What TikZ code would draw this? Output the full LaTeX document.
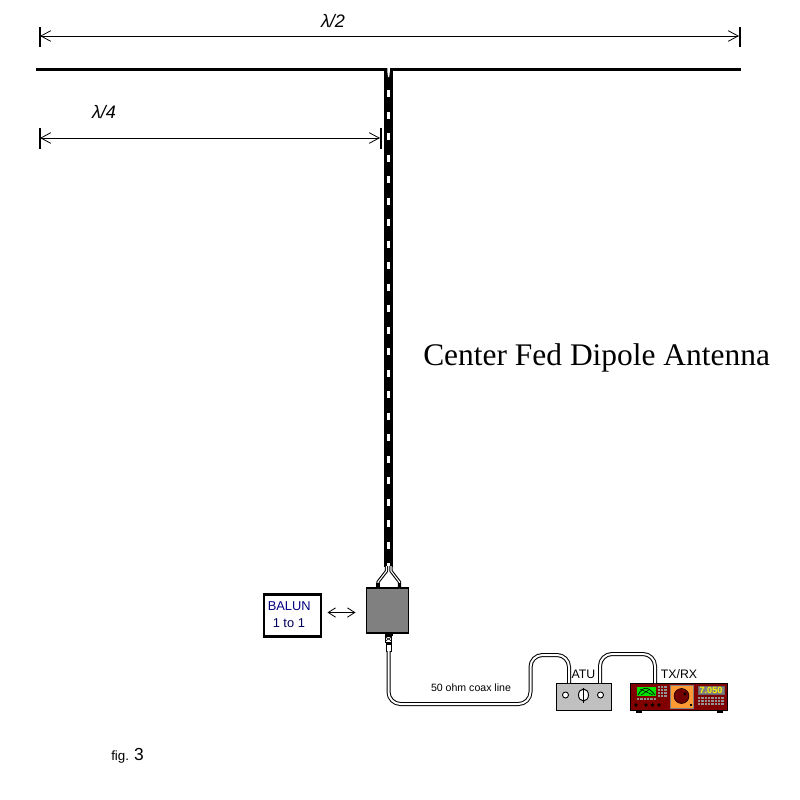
\documentclass[tikz,border=0pt]{standalone}
\usepackage{fontspec}
\setmainfont{Liberation Sans}
\newfontfamily\serifcap{Liberation Serif}
\usetikzlibrary{arrows.meta}
\definecolor{rigred}{HTML}{800000}
\definecolor{panelgray}{HTML}{C0C0C0}
\definecolor{boxgray}{HTML}{808080}
\definecolor{dialorange}{HTML}{FF9933}
\definecolor{balunblue}{HTML}{000080}
\tikzset{
  dim/.style={draw=black,line width=0.75pt,{Straight Barb[length=7.5pt,width=8pt,line width=0.6pt]}-{Straight Barb[length=7.5pt,width=8pt,line width=0.6pt]}},
  smalldim/.style={draw=black,line width=0.75pt,{Straight Barb[length=5.5pt,width=7pt,line width=0.6pt]}-{Straight Barb[length=5.5pt,width=7pt,line width=0.6pt]}},
  lab/.style={inner sep=0pt,font=\fontsize{13.5bp}{15bp}\selectfont},
  eqlab/.style={inner sep=0pt,font=\fontsize{9.2bp}{11bp}\selectfont},
}
\newcommand{\keypadgrid}[4]{%
  \foreach \ii in {1,...,#3}{\foreach \jj in {1,...,#4}{%
    \fill[boxgray!85!white] ({#1+(\ii-1)*3.3},{#2+(\jj-1)*3.0}) rectangle ++(2.4,2.1);}}}
\begin{document}
\begin{tikzpicture}[x=0.75pt,y=-0.75pt]
\useasboundingbox (0,0) rectangle (800,800);
% dimension lines
\coordinate (hwL) at (40,36); \coordinate (hwR) at (739,36);
\coordinate (qwL) at (40,138); \coordinate (qwR) at (380,138);
\draw[line width=2.2pt] (40,27) -- (40,47);
\draw[line width=1.5pt] (739.5,27) -- (739.5,47);
\draw[line width=2.2pt] (40,128) -- (40,149);
\draw[line width=1.5pt] (380.5,128) -- (380.5,149);
\draw[dim] (hwL) -- (hwR);
\draw[dim] (qwL) -- (qwR);
\node[lab] (half) at (333,21) {\itshape λ/2};
\node[lab] (quarter) at (104,112) {\itshape λ/4};
% antenna
\coordinate (antL) at (36,69); \coordinate (antR) at (741,69);
\coordinate (feedT) at (388.5,68); \coordinate (feedB) at (388.5,567);
\draw[line width=2.25pt] (antL) -- (antR);
\draw[line width=6.75pt,black] (feedT) -- (feedB);
\draw[line width=2.25pt,white,dash pattern=on 5.25pt off 10.875pt] (388.5,90) -- (388.5,567);
\fill[white] (387.4,67) -- (389.8,67) -- (389.8,72) -- (389.2,77) -- (388,77) -- (387.4,72) -- cycle;
% balun box and pigtails
\node[draw=black,fill=boxgray,line width=1.1pt,minimum width=31.5bp,minimum height=33.5bp,inner sep=0pt] (balun) at (387.5,610.5) {};
\foreach \wd/\cl in {2.4pt/black,0.8pt/white}{
  \draw[line width=\wd,color=\cl,line join=round] (386.5,566) -- (386.5,571) -- (378,582) -- (378,588);
  \draw[line width=\wd,color=\cl,line join=round] (391,566) -- (391,571) -- (399.5,582) -- (399.5,588);
}
\draw[line width=2.4pt] (378,583) -- (378,588);
\draw[line width=2.4pt] (399.5,583) -- (399.5,588);
% balun label
\node[draw=black,line width=1.9pt,minimum width=42.5bp,minimum height=31.5bp,inner sep=0pt] (lbl) at (292.5,615.5) {};
\node[inner sep=0pt,text=balunblue,font=\fontsize{9.6bp}{11bp}\selectfont,anchor=west] (t1) at (267.5,606) {BALUN};
\node[inner sep=0pt,text=balunblue!70!black,font=\fontsize{9.6bp}{11bp}\selectfont,anchor=west] (t2) at (272.5,623) {1 to 1};
\coordinate (lblarrL) at (327.5,612.5); \coordinate (lblarrR) at (355.5,612.5);
\draw[smalldim] (lblarrL) -- (lblarrR);
% connector
\fill[black] (384.5,633) rectangle (392.5,636);
\draw[line width=0.7pt,fill=white] (385.5,636) rectangle (391.5,642);
\draw[line width=0.5pt] (385.5,637) -- (391.5,641) (391.5,637) -- (385.5,641);
\fill[black] (385.5,642) rectangle (391.5,644);
\draw[line width=0.7pt,fill=white] (386,644) rectangle (391,651);
% ATU and radio
\node[draw=black,fill=panelgray,line width=0.7pt,minimum width=41.5bp,minimum height=20bp,inner sep=0pt] (atu) at (584,697) {};
\node[draw=black,fill=rigred,line width=0.7pt,minimum width=72bp,minimum height=20bp,inner sep=0pt] (rig) at (679,697) {};
% coax
\coordinate (cA) at (388.5,651); \coordinate (cB) at (569,683);
\coordinate (cC) at (600,683); \coordinate (cD) at (655,683);
\foreach \wd/\cl in {3pt/black,1.5pt/white}{
 \draw[line width=\wd,color=\cl,rounded corners=9bp] (cA) -- (388.5,704) -- (530.5,704) -- (530.5,655) -- (569,655) -- (cB);
 \draw[line width=\wd,color=\cl,rounded corners=9bp] (cC) -- (600,654) -- (655,654) -- (cD);
}
% ATU details
\draw[fill=white,line width=0.7pt] (565.5,695) circle (3);
\draw[fill=white,line width=0.7pt] (600.5,695) circle (3);
\draw[fill=white,line width=0.7pt] (583.5,695) ellipse (5 and 6);
\draw[line width=1.3pt] (583.5,687.5) -- (583.5,702.5);
% radio details
\fill[black] (636,711) rectangle (642,713);
\fill[black] (717,711) rectangle (723,713);
\fill[green!90!black] (637,687) rectangle (656,696);
\draw[line width=0.5pt] (638,695) .. controls (643,686) and (648,686) .. (655,695);
\draw[line width=0.4pt] (640,689) -- (653,695) (641,695) -- (650,689);
\keypadgrid{657.5}{686}{3}{4}
\keypadgrid{637}{698}{6}{1}
\draw[fill=dialorange,draw=boxgray,line width=0.7pt] (670,685) rectangle (693,708);
\fill[rigred!90!black,draw=black,line width=0.4pt] (681.5,696) circle (7.5);
\fill[black] (685,694) circle (1.6);
\fill[black] (689.5,704) rectangle (691.5,706);
\fill[boxgray,draw=black!60,line width=0.4pt] (698,686) rectangle (724,694);
\node[inner sep=0pt,text=yellow,font=\fontsize{6.8bp}{8bp}\bfseries\selectfont] (freq) at (711,690.3) {7.050};
\keypadgrid{698}{697}{8}{3}
\foreach \x in {636,646,652.5,659}{\fill[black] (\x,705) circle (1.9);}
% text
\node[eqlab] (atut) at (583.5,674) {ATU};
\node[eqlab] (rigt) at (679,674) {TX/RX};
\node[inner sep=0pt,font=\fontsize{7.9bp}{9bp}\selectfont] (coaxt) at (471,687.5) {50 ohm coax line};
\node[inner sep=0pt,font=\serifcap\fontsize{23.5bp}{26bp}\selectfont,anchor=west] (title) at (423,358) {Center Fed Dipole Antenna};
\node[inner sep=0pt,anchor=west,font=\fontsize{10bp}{12bp}\selectfont] (fig) at (111,755.5) {fig. \fontsize{13bp}{14bp}\selectfont 3};
\end{tikzpicture}
\end{document}
